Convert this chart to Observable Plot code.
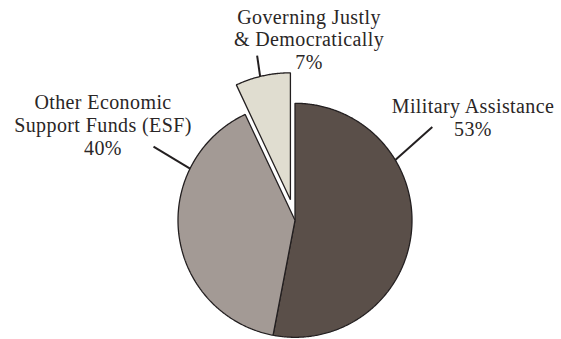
<!DOCTYPE html>
<html><head><meta charset="utf-8">
<script src="https://cdn.jsdelivr.net/npm/d3@7"></script>
<script src="https://cdn.jsdelivr.net/npm/@observablehq/plot@0.6"></script>
<style>body{margin:0;background:#fff} #chart svg{display:block}</style>
</head><body><div id="chart"></div>
<script>
// ---- data ----
const categories = ["Military Assistance", "Other Economic Support Funds (ESF)", "Governing Justly & Democratically"];
const labelLines = ["Military Assistance", "Other Economic\nSupport Funds (ESF)", "Governing Justly\n& Democratically"];
const shares = [53, 40, 7];

// ---- styles / layout ----
const colors = ["#5a4f49", "#a39a95", "#e0ddd0"];
const W = 561, H = 339;
const cx = 294.5, cy = 219.8, R = 117;
const explode = [0, 0, 21];
const radii = [R, R, 127];
const labelPos = [[472.5, 111], [102.5, 107], [308.5, 21.5]]; // first-line baseline
const leaderGeom = [
  {a1: 59, r1: 117, a2: 55.8, r2: 166},
  {a1: 296.2, r1: 117, a2: 297.5, r2: 159.5},
  {a1: 346.2, r1: 127, a2: 347, r2: 148}
];
const fontSize = 20;

const arcs = d3.pie().sort(null).value(d => d)(shares);
const rad = Math.PI / 180;

const slicePts = [];
const centers = [];
arcs.forEach((a, i) => {
  const mid = (a.startAngle + a.endAngle) / 2;
  const ox = cx + explode[i] * Math.sin(mid);
  const oy = cy - explode[i] * Math.cos(mid);
  centers.push([ox, oy]);
  const name = categories[i];
  slicePts.push({name, x: ox, y: oy});
  const n = Math.max(2, Math.ceil((a.endAngle - a.startAngle) / (0.5 * rad)));
  for (let k = 0; k <= n; k++) {
    const t = a.startAngle + (a.endAngle - a.startAngle) * k / n;
    slicePts.push({name, x: ox + radii[i] * Math.sin(t), y: oy - radii[i] * Math.cos(t)});
  }
});

const leaders = leaderGeom.map((g, i) => {
  const [ox, oy] = centers[i];
  return {
    x1: ox + g.r1 * Math.sin(g.a1 * rad), y1: oy - g.r1 * Math.cos(g.a1 * rad),
    x2: ox + g.r2 * Math.sin(g.a2 * rad), y2: oy - g.r2 * Math.cos(g.a2 * rad)
  };
});

const labels = categories.map((c, i) => ({
  text: labelLines[i] + "\n" + shares[i] + "%",
  x: labelPos[i][0],
  y: labelPos[i][1] - 0.71 * fontSize
}));

const chart = Plot.plot({
  width: W, height: H, margin: 0,
  style: {fontFamily: "'Liberation Serif', serif", background: "#fff"},
  x: {domain: [0, W], range: [0, W], axis: null},
  y: {domain: [0, H], range: [0, H], axis: null},
  color: {domain: categories, range: colors},
  marks: [
    Plot.line(slicePts, {x: "x", y: "y", z: "name", fill: "name", stroke: "#231f20", strokeWidth: 1.3, curve: "linear-closed", strokeLinejoin: "miter"}),
    Plot.link(leaders, {x1: "x1", y1: "y1", x2: "x2", y2: "y2", stroke: "#231f20", strokeWidth: 2}),
    Plot.text(labels, {x: "x", y: "y", text: "text", fontSize, lineHeight: 1.13, lineAnchor: "top", textAnchor: "middle", fill: "#2a2626", fontFamily: "'Liberation Serif', serif"})
  ]
});
chart.style.letterSpacing = "0.4px";
document.getElementById("chart").appendChild(chart);
</script>
</body></html>
